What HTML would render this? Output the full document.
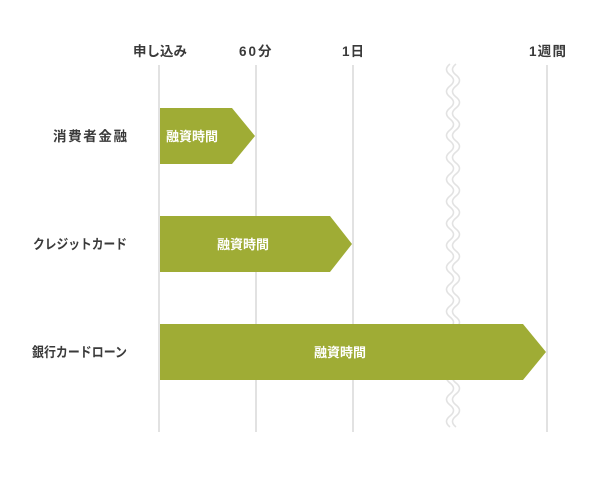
<!DOCTYPE html>
<html><head><meta charset="utf-8"><style>
body{margin:0;background:#fff}
svg text{font-family:"Liberation Sans","Noto Sans CJK JP",sans-serif;}
</style></head><body>
<svg width="600" height="475" viewBox="0 0 600 475" xmlns="http://www.w3.org/2000/svg">
<g stroke="#e2e2e2" stroke-width="2">
<line x1="159" y1="65" x2="159" y2="432"/>
<line x1="256" y1="65" x2="256" y2="432"/>
<line x1="353" y1="65" x2="353" y2="432"/>
<line x1="547" y1="65" x2="547" y2="432"/>
</g>
<g fill="none" stroke="#e2e2e2" stroke-width="1.6">
<path d="M450 64 q-7 5.5 0 11 t0 11 t0 11 t0 11 t0 11 t0 11 t0 11 t0 11 t0 11 t0 11 t0 11 t0 11 t0 11 t0 11 t0 11 t0 11 t0 11 t0 11 t0 11 t0 11 t0 11 t0 11 t0 11 t0 11 t0 11 t0 11 t0 11 t0 11 t0 11 t0 11 t0 11 t0 11 t0 11"/>
<path d="M456 64 q-7 5.5 0 11 t0 11 t0 11 t0 11 t0 11 t0 11 t0 11 t0 11 t0 11 t0 11 t0 11 t0 11 t0 11 t0 11 t0 11 t0 11 t0 11 t0 11 t0 11 t0 11 t0 11 t0 11 t0 11 t0 11 t0 11 t0 11 t0 11 t0 11 t0 11 t0 11 t0 11 t0 11 t0 11"/>
</g>
<g fill="#3a3a3a" font-size="13.5" font-weight="bold">
<text x="133" y="56" textLength="54" lengthAdjust="spacingAndGlyphs">申し込み</text>
<text x="239" y="56" letter-spacing="2">60分</text>
<text x="342" y="56" textLength="22" lengthAdjust="spacing">1日</text>
<text x="529" y="56" textLength="37" lengthAdjust="spacing">1週間</text>
<text x="53" y="141" textLength="74" lengthAdjust="spacing">消費者金融</text>
<text x="33" y="249" textLength="94" lengthAdjust="spacingAndGlyphs">クレジットカード</text>
<text x="32" y="357" textLength="95" lengthAdjust="spacingAndGlyphs">銀行カードローン</text>
</g>
<g fill="#9fac35">
<polygon points="160,108 232,108 255,136 232,164 160,164"/>
<polygon points="160,216 330,216 352,244 330,272 160,272"/>
<polygon points="160,324 523,324 546,352 523,380 160,380"/>
</g>
<g fill="#fff" font-size="13" font-weight="bold">
<text x="166" y="141">融資時間</text>
<text x="243" y="249" text-anchor="middle">融資時間</text>
<text x="340" y="357" text-anchor="middle">融資時間</text>
</g>
</svg>
</body></html>
